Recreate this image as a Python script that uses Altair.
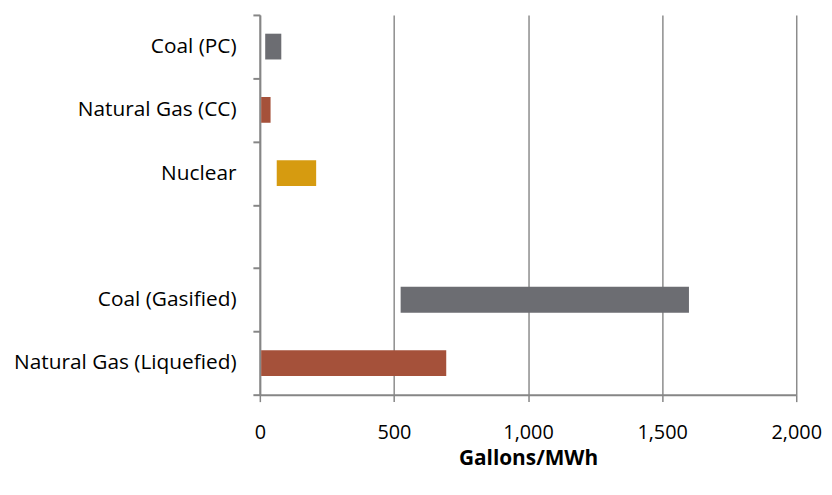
import altair as alt
import pandas as pd

categories = ["Coal (PC)", "Natural Gas (CC)", "Nuclear", " ", "Coal (Gasified) ", "Natural Gas (Liquefied)"]
bar_categories = ["Coal (PC)", "Natural Gas (CC)", "Nuclear", "Coal (Gasified) ", "Natural Gas (Liquefied)"]
low_values = [20, 5, 63, 525, 5]
high_values = [80, 40, 210, 1600, 695]
colors = ["#6c6d72", "#a5513a", "#d69b10", "#6c6d72", "#a5513a"]
x_ticks = [0, 500, 1000, 1500, 2000]

df = pd.DataFrame({"cat": bar_categories, "low": low_values, "high": high_values, "color": colors})

FONT = "Open Sans"

chart = alt.Chart(df).mark_bar(size=26).encode(
    y=alt.Y("cat:N", sort=categories,
            scale=alt.Scale(domain=categories, paddingInner=0, paddingOuter=0),
            axis=alt.Axis(title=None, tickBand="extent", labelFontSize=21, labelFont=FONT,
                          labelColor="#000000", labelPadding=17, tickSize=7, tickColor="#868686",
                          tickWidth=2, domainColor="#868686", domainWidth=2, grid=False,
                          labelLimit=400)),
    x=alt.X("low:Q", scale=alt.Scale(domain=[0, 2000], nice=False),
            axis=alt.Axis(title="Gallons/MWh", values=x_ticks, format=",.0f",
                          labelFontSize=20, labelFont=FONT, labelColor="#000000", labelPadding=21,
                          labelFlush=False,
                          tickSize=7, tickColor="#868686", tickWidth=1.5,
                          domainColor="#868686", domainWidth=2,
                          grid=True, gridColor="#8c8c8c", gridWidth=1.5,
                          titleFont=FONT, titleFontSize=21, titleFontWeight="bold",
                          titleColor="#000000", titlePadding=5)),
    x2="high:Q",
    color=alt.Color("color:N", scale=None),
).properties(
    width=541, height=383,
    autosize=alt.AutoSizeParams(type="none"),
    padding={"top": 5, "left": 254, "right": 28, "bottom": 78},
).configure_view(stroke=None)

chart.save("out.html", embed_options={"renderer": "svg", "actions": False})
